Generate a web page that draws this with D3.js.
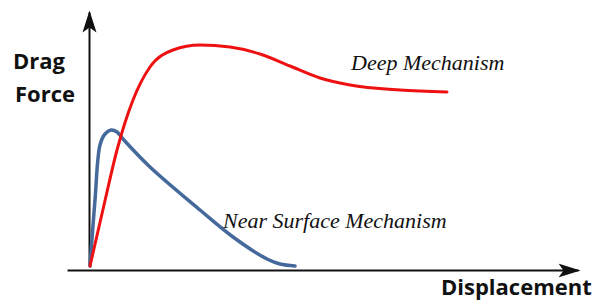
<!DOCTYPE html>
<meta charset="utf-8">
<html>
<head>
<script src="https://cdn.jsdelivr.net/npm/d3@7"></script>
<style>
  body { margin: 0; background: #fff; }
  .lbl { font-family: "Open Sans", sans-serif; font-weight: bold; font-size: 22px; fill: #111; }
  .curve-lbl { font-family: "Liberation Serif", serif; font-style: italic; font-size: 22px; fill: #111; }
</style>
</head>
<body>
<div id="chart"></div>
<script>
  // displacement / force in arbitrary units
  const deepX  = [0, 2.8, 5.4, 8.6, 12, 16.6, 22, 28, 34, 40, 46, 52, 62, 71.4];
  const deepY  = [0, 24.4, 46.4, 66.4, 79.6, 86.4, 88.4, 87.6, 84.8, 80, 75.2, 72.4, 70.4, 69.6];
  const nearX  = [0, 1, 2, 3, 4.2, 5.4, 6.6, 12, 22, 28.6, 35.4, 38, 41];
  const nearY  = [0, 26.4, 48.4, 52.8, 54.4, 53.6, 50.8, 39.6, 22.4, 11.6, 2.8, 0.8, 0];

  const labels = {y: ["Drag", "Force"], x: "Displacement", deep: "Deep Mechanism", near: "Near Surface Mechanism"};

  const W = 601, H = 300;

  const svg = d3.select("#chart").append("svg")
    .attr("width", W).attr("height", H);

  // scales for the curves
  const x = d3.scaleLinear().domain([0, 100]).range([90, 590]);
  const y = d3.scaleLinear().domain([0, 100]).range([266, 16]);

  // arrow head
  svg.append("defs").append("marker")
    .attr("id", "arrow")
    .attr("markerUnits", "userSpaceOnUse")
    .attr("viewBox", "0 -8 22 16")
    .attr("refX", 20).attr("refY", 0)
    .attr("markerWidth", 22).attr("markerHeight", 16)
    .attr("orient", "auto")
    .append("path")
      .attr("d", "M0,-7L22,0L0,7L5,0Z")
      .attr("fill", "#111");

  // axes: scales with no ticks, only the domain line + arrow
  const xAxisScale = d3.scaleLinear().domain([-4.6, 97.6]).range([x(-4.6), x(97.6)]);
  const yAxisScale = d3.scaleLinear().domain([0, 100]).range([y(0.4), 12]);

  const xAxis = svg.append("g")
    .attr("transform", "translate(0,270)")
    .call(d3.axisBottom(xAxisScale).tickValues([]).tickSizeOuter(0));
  const yAxis = svg.append("g")
    .attr("transform", "translate(89,0)")
    .call(d3.axisLeft(yAxisScale).tickValues([]).tickSizeOuter(0));

  [xAxis, yAxis].forEach(a => a.select(".domain")
    .attr("stroke", "#111")
    .attr("stroke-width", 2)
    .attr("marker-end", "url(#arrow)"));

  const line = d3.line()
    .x(d => x(d[0]))
    .y(d => y(d[1]));

  svg.append("path")
    .datum(d3.zip(nearX, nearY))
    .attr("d", line.curve(d3.curveCatmullRom.alpha(0.5)))
    .attr("fill", "none")
    .attr("stroke", "#46699b")
    .attr("stroke-width", 3.5)
    .attr("stroke-linecap", "round");

  svg.append("path")
    .datum(d3.zip(deepX, deepY))
    .attr("d", line.curve(d3.curveMonotoneX))
    .attr("fill", "none")
    .attr("stroke", "#ee1111")
    .attr("stroke-width", 3)
    .attr("stroke-linecap", "round");

  // labels
  svg.append("text").attr("class", "lbl").attr("x", 13).attr("y", 69).text(labels.y[0]);
  svg.append("text").attr("class", "lbl").attr("x", 15).attr("y", 102).text(labels.y[1]);
  svg.append("text").attr("class", "lbl").attr("x", 441).attr("y", 295).text(labels.x);
  svg.append("text").attr("class", "curve-lbl").attr("x", 351).attr("y", 70).text(labels.deep);
  svg.append("text").attr("class", "curve-lbl").attr("x", 223).attr("y", 228).text(labels.near);
</script>
</body>
</html>
